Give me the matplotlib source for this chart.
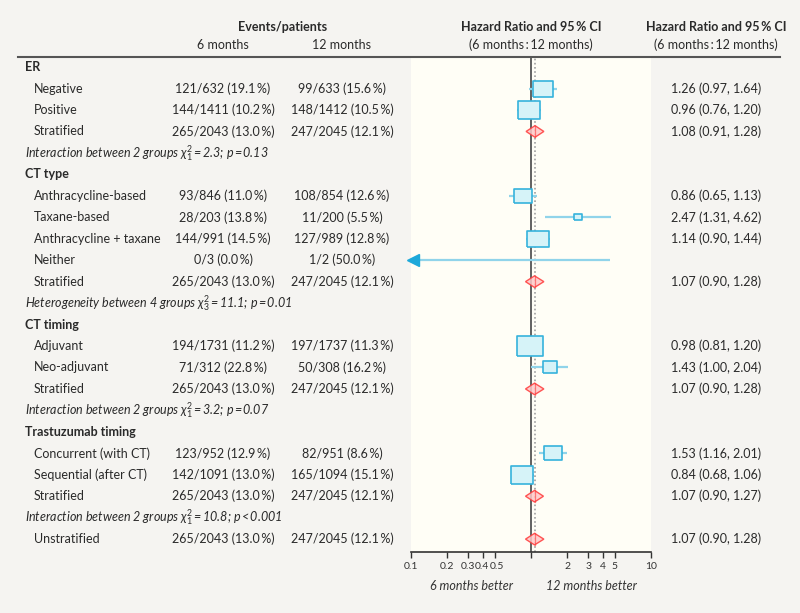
import numpy as np
import matplotlib.pyplot as plt
from matplotlib.transforms import blended_transform_factory, ScaledTranslation

plt.rcParams["font.family"] = ["Lato", "DejaVu Sans"]
plt.rcParams["mathtext.fontset"] = "custom"
plt.rcParams["mathtext.rm"] = "Lato"
plt.rcParams["mathtext.it"] = "Lato:italic"
plt.rcParams["mathtext.fallback"] = "cm"

TS = "\u2009"  # thin space

# rows: kind is head / item / strat / note
labels = [
    "ER", "Negative", "Positive", "Stratified",
    "Interaction between 2 groups $\\chi^2_1$" + TS + "=" + TS + "2.3; p" + TS + "=" + TS + "0.13",
    "CT type", "Anthracycline-based", "Taxane-based", "Anthracycline + taxane", "Neither", "Stratified",
    "Heterogeneity between 4 groups $\\chi^2_3$" + TS + "=" + TS + "11.1; p" + TS + "=" + TS + "0.01",
    "CT timing", "Adjuvant", "Neo-adjuvant", "Stratified",
    "Interaction between 2 groups $\\chi^2_1$" + TS + "=" + TS + "3.2; p" + TS + "=" + TS + "0.07",
    "Trastuzumab timing", "Concurrent (with CT)", "Sequential (after CT)", "Stratified",
    "Interaction between 2 groups $\\chi^2_1$" + TS + "=" + TS + "10.8; p" + TS + "<" + TS + "0.001",
    "Unstratified",
]
kinds = [
    "head", "item", "item", "strat", "note",
    "head", "item", "item", "item", "item", "strat", "note",
    "head", "item", "item", "strat", "note",
    "head", "item", "item", "strat", "note",
    "strat",
]
n = np.nan
events6 = [n, 121, 144, 265, n, n, 93, 28, 144, 0, 265, n, n, 194, 71, 265, n, n, 123, 142, 265, n, 265]
patients6 = [n, 632, 1411, 2043, n, n, 846, 203, 991, 3, 2043, n, n, 1731, 312, 2043, n, n, 952, 1091, 2043, n, 2043]
events12 = [n, 99, 148, 247, n, n, 108, 11, 127, 1, 247, n, n, 197, 50, 247, n, n, 82, 165, 247, n, 247]
patients12 = [n, 633, 1412, 2045, n, n, 854, 200, 989, 2, 2045, n, n, 1737, 308, 2045, n, n, 951, 1094, 2045, n, 2045]
hr = [n, 1.26, 0.96, 1.08, n, n, 0.86, 2.47, 1.14, n, 1.07, n, n, 0.98, 1.43, 1.07, n, n, 1.53, 0.84, 1.07, n, 1.07]
ci_lo = [n, 0.97, 0.76, 0.91, n, n, 0.65, 1.31, 0.90, 0.0, 0.90, n, n, 0.81, 1.00, 0.90, n, n, 1.16, 0.68, 0.90, n, 0.90]
ci_hi = [n, 1.64, 1.20, 1.28, n, n, 1.13, 4.62, 1.44, 4.55, 1.28, n, n, 1.20, 2.04, 1.28, n, n, 2.01, 1.06, 1.27, n, 1.28]
overall_hr = 1.07
xticks = [0.1, 0.2, 0.3, 0.4, 0.5, 1, 2, 3, 4, 5, 10]
xticklabels = ["0.1", "0.2", "0.3", "0.4", "0.5", "", "2", "3", "4", "5", "10"]

W, H = 800, 613
BG = "#f5f4f1"
PANEL = "#fffef6"
LINE_BLUE = "#90d4ea"
BOX_EDGE = "#36b3dc"
BOX_FILL = "#d6f3f8"
RED = "#ff3a3a"

fig = plt.figure(figsize=(W / 100, H / 100), dpi=100, facecolor=BG)
ax = fig.add_axes([411 / W, (H - 552) / H, 240 / W, 495 / H], facecolor=PANEL)
ax.set_xscale("log")
ax.set_xlim(0.1, 10)
ax.set_ylim(22.6, -0.47)

ax.axvline(1, color="#555555", lw=1.3, zorder=2)
ax.axvline(overall_hr, color="#a0a0a0", lw=1.2, ls=(0, (1, 1.5)), zorder=2)

rows = np.arange(len(labels))
for i in rows:
    if kinds[i] == "item" and not np.isnan(ci_hi[i]):
        lo = ci_lo[i] if ci_lo[i] > 0.1 else 0.104
        ax.plot([lo, ci_hi[i]], [i, i], color=LINE_BLUE, lw=1.6, zorder=3, solid_capstyle="butt")
        if ci_lo[i] <= 0.1:
            ax.plot([0.104], [i], marker="<", ms=8, color="#1ea9da", mec="#1ea9da", zorder=4, clip_on=False)
        if not np.isnan(hr[i]):
            total = events6[i] + events12[i]
            ax.scatter([hr[i]], [i], s=0.86 * total,
                       marker=[(-1, -0.8), (1, -0.8), (1, 0.8), (-1, 0.8), (-1, -0.8)],
                       facecolor=BOX_FILL, edgecolor=BOX_EDGE, linewidth=1.2, zorder=5)
    elif kinds[i] == "strat":
        h = 0.27
        ax.fill([ci_lo[i], hr[i], ci_hi[i], hr[i]], [i, i - h, i, i + h],
                facecolor="#ffc8c8", edgecolor=RED, lw=1.0, alpha=0.85, zorder=5)
        ax.plot([hr[i], hr[i]], [i - h, i + h], color=RED, lw=0.9, alpha=0.6, zorder=6)

for s in ["top", "left", "right"]:
    ax.spines[s].set_visible(False)
ax.spines["bottom"].set_color("#333333")
ax.spines["bottom"].set_linewidth(1.2)
ax.set_xticks(xticks)
ax.set_xticklabels(xticklabels, fontsize=7.5)
ax.minorticks_off()
ax.tick_params(axis="x", length=4, width=1, color="#333333", pad=3.5, labelcolor="#333333")
ax.set_yticks([])
# 0.4 and 0.5 sit very close on the log scale: ease them apart a hair
for lab in ax.get_xticklabels():
    if lab.get_text() == "0.4":
        lab.set_transform(lab.get_transform() + ScaledTranslation(-1.2 / 100, 0, fig.dpi_scale_trans))
    elif lab.get_text() == "0.5":
        lab.set_transform(lab.get_transform() + ScaledTranslation(1.8 / 100, 0, fig.dpi_scale_trans))

ax.text(0.25, -0.069, "6 months better", transform=ax.transAxes, ha="center", va="center",
        style="italic", fontsize=9, color="#333333")
ax.text(0.75, -0.069, "12 months better", transform=ax.transAxes, ha="center", va="center",
        style="italic", fontsize=9, color="#333333")

tr = blended_transform_factory(fig.transFigure, ax.transData)
TXT = "#2a2a2a"
fs = 9

# header
ax.text(283 / W, -1.86, "Events/patients", transform=tr, ha="center", va="center", fontsize=fs, weight="bold", color=TXT)
ax.text(223 / W, -1.03, "6 months", transform=tr, ha="center", va="center", fontsize=fs, color=TXT)
ax.text(342 / W, -1.03, "12 months", transform=tr, ha="center", va="center", fontsize=fs, color=TXT)
for cx in [531, 716]:
    ax.text(cx / W, -1.86, "Hazard Ratio and 95" + TS + "% CI", transform=tr, ha="center", va="center",
            fontsize=fs, weight="bold", color=TXT)
    ax.text(cx / W, -1.03, "(6 months" + TS + ":" + TS + "12 months)", transform=tr, ha="center", va="center",
            fontsize=fs, color=TXT)
ax.plot([18 / W, 780 / W], [-0.45, -0.45], transform=tr, color="#555555", lw=1.5, clip_on=False)


def fmt_ev(e, p):
    return "%d/%d (%.1f%s%%)" % (e, p, 100.0 * e / p, TS)


for i in rows:
    k = kinds[i]
    if k == "head":
        ax.text(25 / W, i, labels[i], transform=tr, ha="left", va="center", fontsize=fs, weight="bold", color=TXT)
    elif k == "note":
        ax.text(25 / W, i, labels[i], transform=tr, ha="left", va="center", fontsize=fs, style="italic", color=TXT)
    else:
        ax.text(34 / W, i, labels[i], transform=tr, ha="left", va="center", fontsize=fs, color=TXT)
        ax.text(223 / W, i, fmt_ev(events6[i], patients6[i]), transform=tr, ha="center", va="center",
                fontsize=fs, color=TXT)
        ax.text(342 / W, i, fmt_ev(events12[i], patients12[i]), transform=tr, ha="center", va="center",
                fontsize=fs, color=TXT)
        if not np.isnan(hr[i]):
            ax.text(716 / W, i, "%.2f (%.2f, %.2f)" % (hr[i], ci_lo[i], ci_hi[i]), transform=tr,
                    ha="center", va="center", fontsize=fs, color=TXT)

fig.savefig("out.png", dpi=100, facecolor=BG)
